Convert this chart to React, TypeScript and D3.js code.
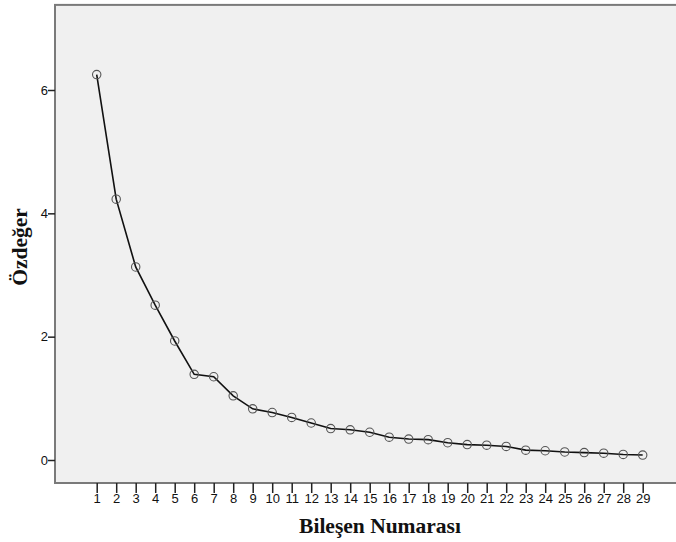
import { useEffect, useRef } from "react";
import * as d3 from "d3";

// component numbers and eigenvalues
const components = d3.range(1, 30);
const eigenvalues = [
  6.25, 4.23, 3.13, 2.51, 1.93, 1.39, 1.35, 1.04, 0.83, 0.77,
  0.69, 0.6, 0.51, 0.49, 0.45, 0.37, 0.34, 0.33, 0.28, 0.25,
  0.24, 0.22, 0.16, 0.15, 0.13, 0.12, 0.11, 0.09, 0.08,
];
const yTicks = [0, 2, 4, 6];
const xTitle = "Bileşen Numarası";
const yTitle = "Özdeğer";

const W = 676;
const H = 542;

const App = () => {
  const svgRef = useRef<SVGSVGElement | null>(null);

  useEffect(() => {
    const svg = d3.select(svgRef.current);
    svg.selectAll("*").remove();

    const x = d3.scaleLinear().domain([1, 29]).range([96.7, 642.7]);
    const y = d3.scaleLinear().domain([0, 6]).range([460, 90]);

    const left = 55;
    const top = y(7.38);
    const bottom = y(-0.373);

    // plot background + frame
    svg
      .append("rect")
      .attr("x", left)
      .attr("y", top)
      .attr("width", W - left + 4)
      .attr("height", bottom - top)
      .attr("fill", "#f0f0f0")
      .attr("stroke", "#7a7a7a")
      .attr("stroke-width", 2);

    const tickFont = "'Liberation Sans', Arial, sans-serif";

    const yAxis = svg
      .append("g")
      .attr("transform", `translate(${left},0)`)
      .call(d3.axisLeft(y).tickValues(yTicks).tickSize(7).tickSizeOuter(0).tickFormat(d3.format("d")));
    yAxis.select(".domain").remove();
    yAxis.selectAll("line").attr("stroke", "#222").attr("stroke-width", 1.5);
    yAxis
      .selectAll("text")
      .attr("font-family", tickFont)
      .attr("font-size", 13)
      .attr("fill", "#111")
      .attr("x", -7);

    const xAxis = svg
      .append("g")
      .attr("transform", `translate(0,${bottom})`)
      .call(d3.axisBottom(x).tickValues(components).tickSize(10).tickSizeOuter(0).tickFormat(d3.format("d")));
    xAxis.select(".domain").remove();
    xAxis.selectAll("line").attr("stroke", "#222").attr("stroke-width", 1.5);
    xAxis
      .selectAll("text")
      .attr("font-family", tickFont)
      .attr("font-size", 13)
      .attr("fill", "#111")
      .attr("y", 11);

    const line = d3
      .line<number>()
      .x((_, i) => x(components[i]))
      .y((d) => y(d));

    svg
      .append("path")
      .datum(eigenvalues)
      .attr("d", line)
      .attr("fill", "none")
      .attr("stroke", "#111")
      .attr("stroke-width", 1.6);

    svg
      .selectAll(".pt")
      .data(eigenvalues)
      .enter()
      .append("circle")
      .classed("pt", true)
      .attr("cx", (_, i) => x(components[i]))
      .attr("cy", (d) => y(d))
      .attr("r", 4.2)
      .attr("fill", "none")
      .attr("stroke", "#555")
      .attr("stroke-width", 1.1);

    const titleFont = "'Liberation Serif', 'Times New Roman', serif";

    svg
      .append("text")
      .text(xTitle)
      .attr("x", 380)
      .attr("y", 533)
      .attr("text-anchor", "middle")
      .attr("font-family", titleFont)
      .attr("font-weight", "bold")
      .attr("font-size", 21.5)
      .attr("fill", "#111");

    svg
      .append("text")
      .text(yTitle)
      .attr("transform", `translate(27,247) rotate(-90)`)
      .attr("text-anchor", "middle")
      .attr("font-family", titleFont)
      .attr("font-weight", "bold")
      .attr("font-size", 21.5)
      .attr("fill", "#111");
  }, []);

  return (
    <svg
      ref={svgRef}
      width={W}
      height={H}
      style={{ position: "absolute", left: 0, top: 0, background: "#fff" }}
    />
  );
};

export default App;
